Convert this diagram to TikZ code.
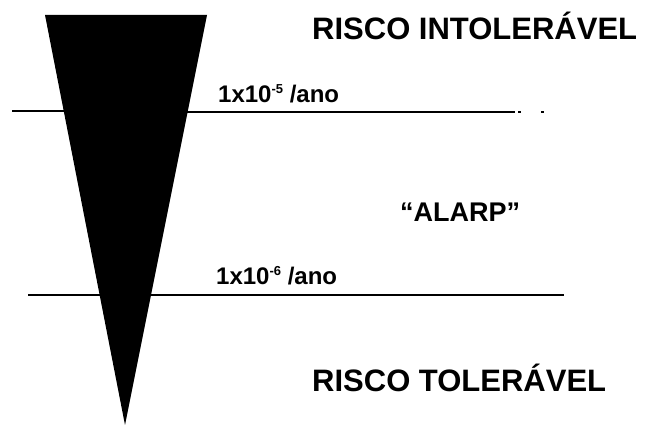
\documentclass[tikz,border=0pt]{standalone}
\usepackage{fontspec}
\setmainfont{Liberation Sans}
\newcommand{\expo}[1]{\raisebox{9pt}{\fontsize{13}{13}\selectfont #1}}
\begin{document}
\begin{tikzpicture}[x=1pt,y=1pt,
  lbl/.style={font=\bfseries\fontsize{31}{33}\selectfont, anchor=base west, inner sep=0pt},
  rate/.style={font=\bfseries\fontsize{24}{26}\selectfont, anchor=base west, inner sep=0pt},
  limit/.style={line width=1.3pt}]
\useasboundingbox (0,0) rectangle (651,428);
% risk wedge
\fill[black] (45,413) -- (207,413) -- (125,3) -- cycle;
% upper limit line
\draw[limit] (12,317) -- (64,317);
\draw[limit] (186,316) -- (515,316);
\draw[limit] (518,316) -- (521,316);
\draw[limit] (541,316) -- (544,316);
% lower limit line
\draw[limit] (28,133) -- (564,133);
% labels
\node[lbl] (intol) at (312,388) {RISCO INTOLERÁVEL};
\node[rate] (r5) at (218,325) {1x10\expo{-5} /ano};
\node[font=\bfseries\fontsize{27}{29}\selectfont, anchor=base west, inner sep=0pt] (alarp) at (400,206) {“ALARP”};
\node[rate] (r6) at (216,143) {1x10\expo{-6} /ano};
\node[lbl] (tol) at (312,36) {RISCO TOLERÁVEL};
\end{tikzpicture}
\end{document}
